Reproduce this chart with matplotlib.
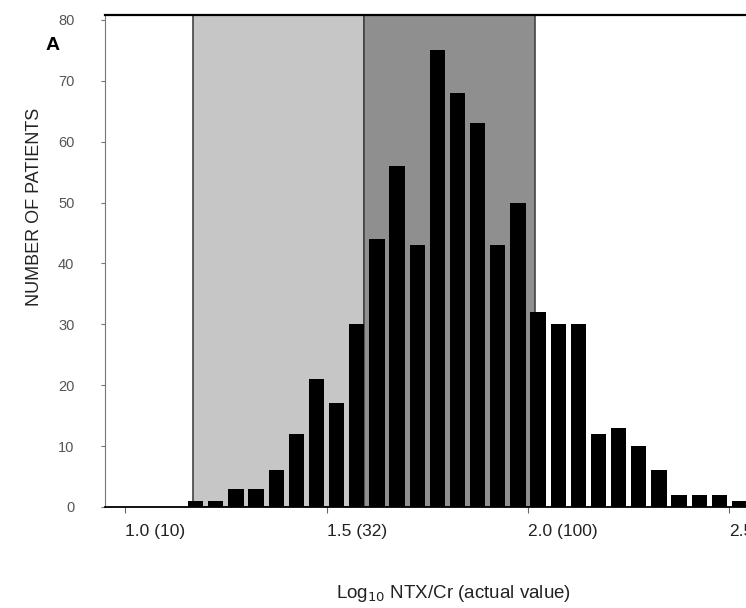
import numpy as np
import matplotlib
matplotlib.use("Agg")
import matplotlib.pyplot as plt
import matplotlib.transforms as mtransforms

plt.rcParams["font.family"] = ["Liberation Sans", "DejaVu Sans"]

# histogram of log10 NTX/Cr, bins of 0.05
bin_centers = np.arange(28) * 0.05 + 1.175
counts = [1, 1, 3, 3, 6, 12, 21, 17, 30, 44, 56, 43, 75, 68,
          63, 43, 50, 32, 30, 30, 12, 13, 10, 6, 2, 2, 2, 1]

x_ticks = [1.0, 1.5, 2.0, 2.5]
x_ticklabels = ["1.0 (10)", "1.5 (32)", "2.0 (100)", "2.5"]
y_ticks = [0, 10, 20, 30, 40, 50, 60, 70, 80]

# shaded ranges
light_range = (1.168, 1.592)
dark_range = (1.592, 2.017)

fig = plt.figure(figsize=(7.46, 6.08), dpi=100)
ax = fig.add_axes([105 / 746, 101 / 608, 641 / 746, 492 / 608])

ax.axvspan(*light_range, facecolor="#c6c6c6", edgecolor="#444444", linewidth=1.2, zorder=0)
ax.axvspan(*dark_range, facecolor="#8f8f8f", edgecolor="#444444", linewidth=1.2, zorder=0)

ax.bar(bin_centers, counts, width=0.038, color="black", edgecolor="none", zorder=2)

ax.set_xlim(0.95, 2.541)
ax.set_ylim(0, 80.8)

ax.set_xticks(x_ticks)
ax.set_xticklabels(x_ticklabels, fontsize=12.5, color="#222222", ha="left")
offset = mtransforms.ScaledTranslation(-12 / 100, 0, fig.dpi_scale_trans)
for lbl in ax.get_xticklabels():
    lbl.set_transform(lbl.get_transform() + offset)

ax.set_yticks(y_ticks)
ax.set_yticklabels([str(v) for v in y_ticks], fontsize=10.5, color="#555555")
ax.tick_params(axis="y", length=3, width=0.8, color="#777777", pad=19)
ax.tick_params(axis="x", length=4, width=0.8, color="#666666", pad=8)

ax.spines["top"].set_linewidth(1.6)
ax.spines["top"].set_color("black")
ax.spines["right"].set_visible(False)
ax.spines["left"].set_linewidth(0.8)
ax.spines["left"].set_color("#777777")
ax.spines["bottom"].set_linewidth(1.3)
ax.spines["bottom"].set_color("black")

fig.text(35 / 746, 1 - 207 / 608, "NUMBER OF PATIENTS", rotation=90,
         fontsize=13, color="#222222", ha="center", va="center")
fig.text(454 / 746, 1 - 593 / 608, "Log$_{10}$ NTX/Cr (actual value)",
         fontsize=13.5, color="#222222", ha="center", va="center")
fig.text(53 / 746, 1 - 45 / 608, "A", fontsize=14, fontweight="bold",
         ha="center", va="center")

fig.savefig("out.png", dpi=100)
